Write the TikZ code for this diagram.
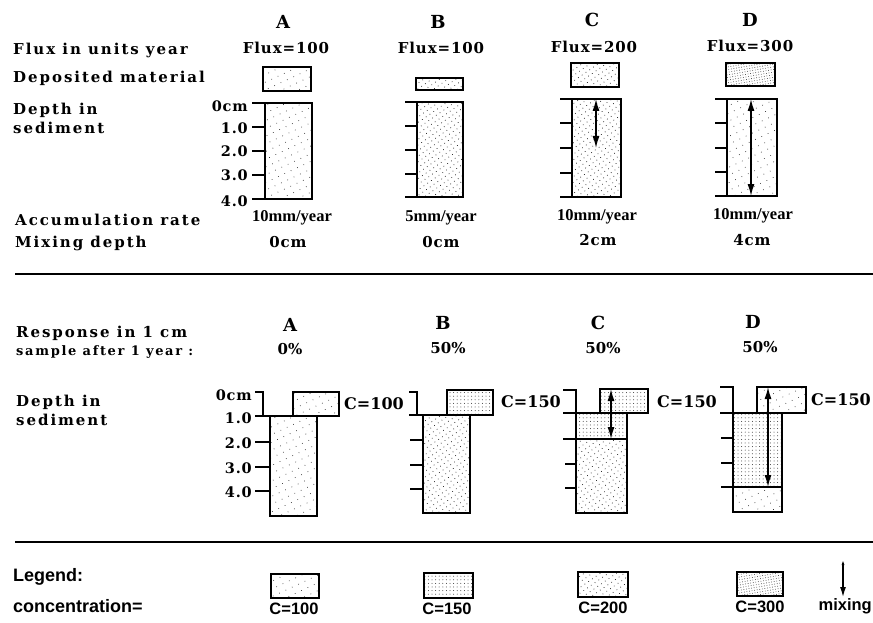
\documentclass[tikz,border=0pt]{standalone}
\usepackage{fontspec}
\setmainfont{DejaVu Serif}
\newfontfamily\spaced{DejaVu Serif}[LetterSpace=13]
\newfontfamily\spacedb{DejaVu Serif}[LetterSpace=6]
\newfontfamily\lsans{Liberation Sans}
\newfontfamily\lserif{Liberation Serif}
\usetikzlibrary{patterns.meta,arrows.meta}
\begin{document}
\begin{tikzpicture}[x=1pt,y=-1pt,
  labl/.style={font=\spaced\bfseries\fontsize{15}{17}\selectfont, inner sep=0pt, anchor=west},
  small/.style={font=\spaced\bfseries\fontsize{13}{15}\selectfont, inner sep=0pt, anchor=west},
  val/.style={font=\spacedb\bfseries\fontsize{15}{17}\selectfont, inner sep=0pt},
  rate/.style={font=\lserif\bfseries\fontsize{16.5}{18}\selectfont, inner sep=0pt},
  dep/.style={font=\spacedb\bfseries\fontsize{14.5}{16}\selectfont, inner sep=0pt, anchor=east},
  conc/.style={font=\bfseries\fontsize{16}{18}\selectfont, inner sep=0pt},
  pct/.style={font=\bfseries\fontsize{15}{17}\selectfont, inner sep=0pt},
  leg/.style={font=\lsans\bfseries\fontsize{18}{20}\selectfont, inner sep=0pt},
  legv/.style={font=\lsans\bfseries\fontsize{16.5}{18}\selectfont, inner sep=0pt},
  hdr/.style={font=\bfseries\fontsize{18}{20}\selectfont, inner sep=0pt},
  frame/.style={draw, line width=1.6pt},
  tk/.style={line width=1.6pt},
  sep/.style={line width=1.8pt},
  p100/.style={pattern={Dots[distance=7pt,radius=0.5pt,angle=25]}, pattern color=black!80},
  p150/.style={pattern={Dots[distance=3.6pt,radius=0.5pt]}, pattern color=black!80},
  p200/.style={pattern={Dots[distance=4.6pt,radius=0.55pt,angle=35]}, pattern color=black!80},
  p300/.style={pattern={Dots[distance=2.6pt,radius=0.45pt,angle=10]}, pattern color=black!80},
  mix/.style={line width=1.4pt, {Latex[length=12pt,width=7pt]}-{Latex[length=12pt,width=7pt]}}]
\useasboundingbox (0,0) rectangle (873,623);

% ---------------- top section ----------------
\node[labl] (t1) at (13,50) {Flux in units year};
\node[labl] (t2) at (13,78) {Deposited material};
\node[labl] (t3) at (13,110) {Depth in};
\node[labl] (t4) at (13,128) {sediment};
\node[labl] (t5) at (15,220) {Accumulation rate};
\node[labl] (t6) at (15,243) {Mixing depth};

\node[hdr] (hA) at (283,22) {A};
\node[hdr] (hB) at (438,22) {B};
\node[hdr] (hC) at (592,20) {C};
\node[hdr] (hD) at (750,20) {D};
\node[val] (fA) at (286,48) {Flux=100};
\node[val] (fB) at (441,48) {Flux=100};
\node[val] (fC) at (594,47) {Flux=200};
\node[val] (fD) at (750,46) {Flux=300};

% deposited boxes
\draw[frame,p100] (263,67) rectangle (311,91);
\draw[frame,p200] (416,78) rectangle (463,90);
\draw[frame,p200] (571,63) rectangle (619,87);
\draw[frame,p300] (726,63) rectangle (775,86);

% columns
\draw[frame,p100] (265,103) rectangle (312,199);
\foreach \y in {103,127,151,175,199} \draw[tk] (252,\y) -- (265,\y);
\node[dep] (dA0) at (248,106) {0cm};
\node[dep] (dA1) at (248,128) {1.0};
\node[dep] (dA2) at (248,151) {2.0};
\node[dep] (dA3) at (248,175) {3.0};
\node[dep] (dA4) at (248,201) {4.0};

\draw[frame,p200] (417,102) rectangle (463,197);
\foreach \y in {102,126,150,174,197} \draw[tk] (405,\y) -- (417,\y);

\draw[frame,p200] (572,99) rectangle (621,197);
\foreach \y in {99,123,148,173,197} \draw[tk] (560,\y) -- (572,\y);
\coordinate (cTa) at (596,99);
\coordinate (cTb) at (596,148);
\draw[mix] (cTa) -- (cTb);

\draw[frame,p100] (727,99) rectangle (777,196);
\foreach \y in {99,123,148,172,196} \draw[tk] (715,\y) -- (727,\y);
\coordinate (dTa) at (751,99);
\coordinate (dTb) at (751,196);
\draw[mix] (dTa) -- (dTb);

\node[rate] (aA) at (292,218) {10mm/year};
\node[rate] (aB) at (441,218) {5mm/year};
\node[rate] (aC) at (597,217) {10mm/year};
\node[rate] (aD) at (753,216) {10mm/year};
\node[val] (mA) at (288,242) {0cm};
\node[val] (mB) at (441,242) {0cm};
\node[val] (mC) at (598,240) {2cm};
\node[val] (mD) at (752,240) {4cm};

\coordinate (s1a) at (15,274);
\coordinate (s1b) at (873,274);
\draw[sep] (s1a) -- (s1b);

% ---------------- middle section ----------------
\node[labl] (r1) at (16,333) {Response in 1 cm};
\node[small] (r2) at (16,352) {sample after 1 year :};
\node[labl] (r3) at (16,402) {Depth in};
\node[labl] (r4) at (16,420) {sediment};

\node[hdr] (gA) at (290,325) {A};
\node[hdr] (gB) at (443,323) {B};
\node[hdr] (gC) at (598,323) {C};
\node[hdr] (gD) at (753,322) {D};
\node[pct] (pA) at (290,349) {0\%};
\node[pct] (pB) at (448,348) {50\%};
\node[pct] (pC) at (603,348) {50\%};
\node[pct] (pD) at (760,347) {50\%};

% A
\draw[frame,p100] (270,416) rectangle (317,516);
\draw[frame,p100] (293,392) rectangle (339,416);
\draw[tk] (255,392) -- (263,392) -- (263,416);
\draw[tk] (255,416) -- (270,416);
\foreach \y in {442,467,491} \draw[tk] (255,\y) -- (270,\y);
\node[dep] (eA0) at (252,395) {0cm};
\node[dep] (eA1) at (252,418) {1.0};
\node[dep] (eA2) at (252,443) {2.0};
\node[dep] (eA3) at (252,468) {3.0};
\node[dep] (eA4) at (252,492) {4.0};
\node[conc] (cA) at (374,404) {C=100};

% B
\draw[frame,p200] (423,415) rectangle (470,513);
\draw[frame,p150] (447,390) rectangle (493,415);
\draw[tk] (409,392) -- (417,392) -- (417,415);
\draw[tk] (409,415) -- (423,415);
\foreach \y in {440,465,489} \draw[tk] (410,\y) -- (423,\y);
\node[conc] (cB) at (531,402) {C=150};

% C
\draw[frame,p150] (576,413) rectangle (627,439);
\draw[frame,p200] (576,439) rectangle (627,513);
\draw[frame,p150] (600,389) rectangle (648,413);
\draw[tk] (563,390) -- (576,390) -- (576,413);
\draw[tk] (563,413) -- (576,413);
\draw[tk] (563,439) -- (576,439);
\foreach \y in {464,488} \draw[tk] (565,\y) -- (576,\y);
\coordinate (cMa) at (611,389);
\coordinate (cMb) at (611,439);
\draw[mix] (cMa) -- (cMb);
\node[conc] (cC) at (687,402) {C=150};

% D
\draw[frame,p150] (733,413) rectangle (782,487);
\draw[frame,p100] (733,487) rectangle (782,512);
\draw[frame,p100] (757,387) rectangle (806,413);
\draw[tk] (720,387) -- (733,387) -- (733,413);
\draw[tk] (720,413) -- (733,413);
\draw[tk] (721,487) -- (733,487);
\foreach \y in {438,463} \draw[tk] (721,\y) -- (733,\y);
\coordinate (dMa) at (768,387);
\coordinate (dMb) at (768,487);
\draw[mix] (dMa) -- (dMb);
\node[conc] (cD) at (841,400) {C=150};

\coordinate (s2a) at (15,542);
\coordinate (s2b) at (873,542);
\draw[sep] (s2a) -- (s2b);

% ---------------- legend ----------------
\node[leg,anchor=west] (lg1) at (13,577) {Legend:};
\node[leg,anchor=west] (lg2) at (13,606) {concentration=};
\draw[frame,p100] (271,574) rectangle (319,598);
\draw[frame,p150] (424,573) rectangle (473,598);
\draw[frame,p200] (578,572) rectangle (628,597);
\draw[frame,p300] (737,572) rectangle (783,596);
\node[legv] (k1) at (294,609) {C=100};
\node[legv] (k2) at (447,609) {C=150};
\node[legv] (k3) at (603,608) {C=200};
\node[legv] (k4) at (760,607) {C=300};
\coordinate (lma) at (843,560);
\coordinate (lmb) at (843,597);
\draw[line width=1.3pt, {Latex[length=5pt,width=3pt]}-{Latex[length=10pt,width=6pt]}] (lma) -- (lmb);
\node[legv,anchor=east] (k5) at (872,606) {mixing};
\end{tikzpicture}
\end{document}
